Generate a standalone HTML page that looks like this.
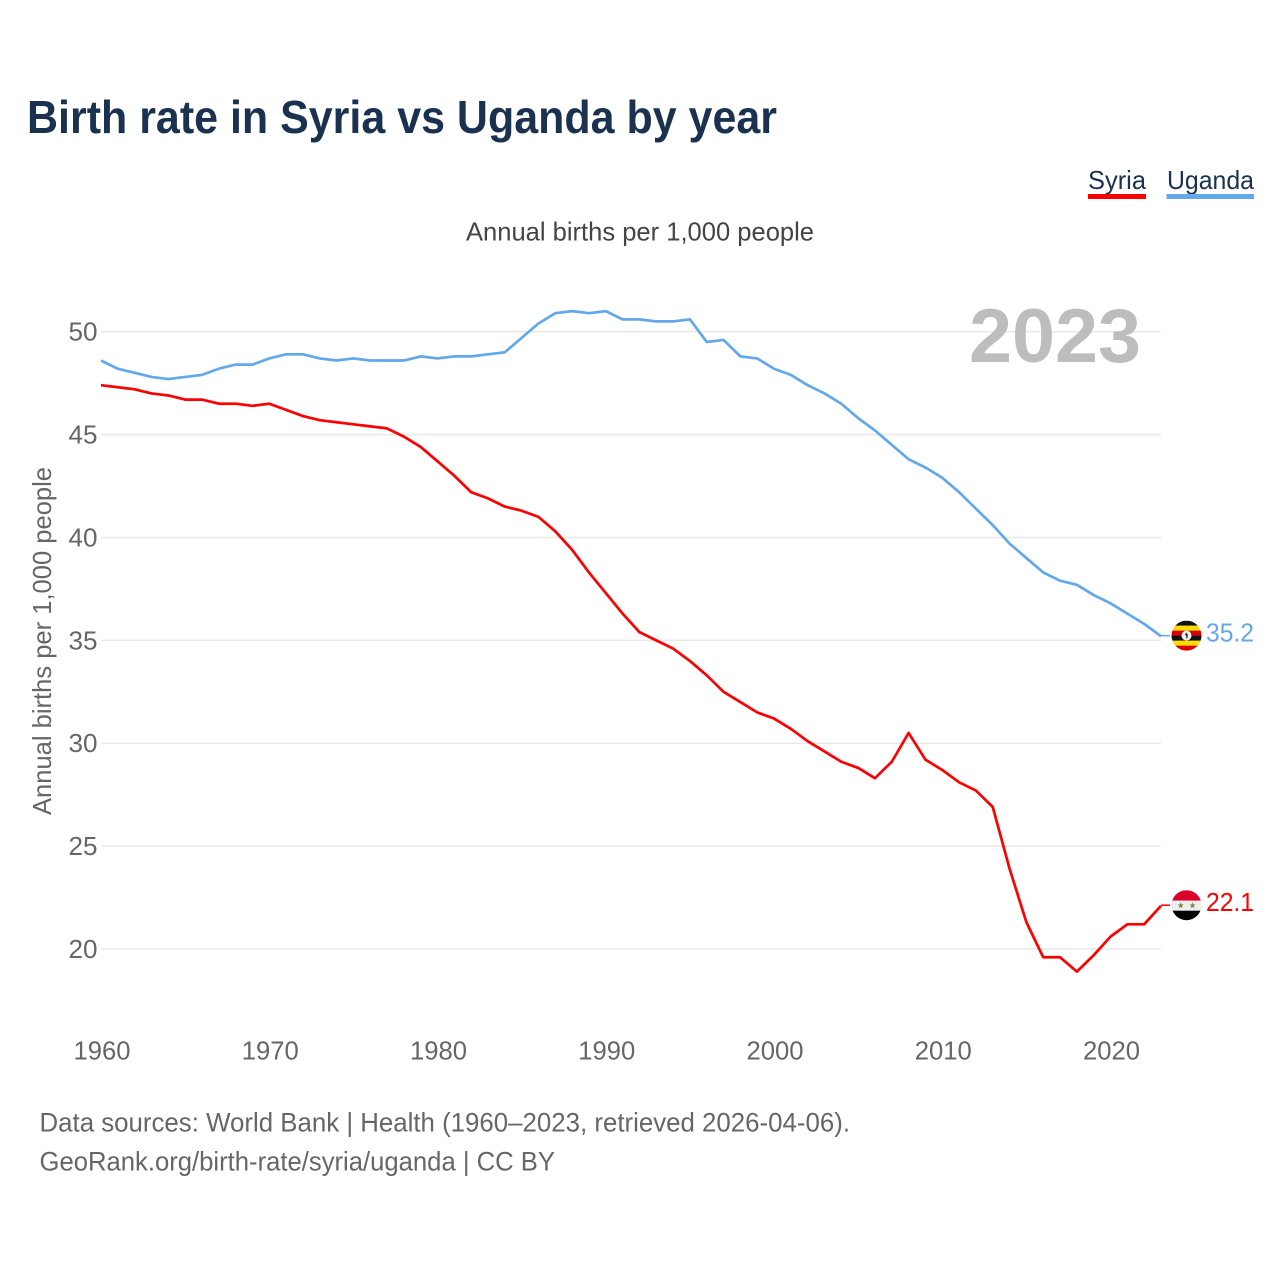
<!DOCTYPE html>
<html lang="en">
<head>
<meta charset="utf-8">
<title>Birth rate in Syria vs Uganda by year</title>
<style>
html,body{margin:0;padding:0;background:#fff;}
svg{display:block;font-family:"Liberation Sans",sans-serif;}
</style>
</head>
<body>
<svg id="chart" xmlns="http://www.w3.org/2000/svg" width="1280" height="1280" viewBox="0 0 1280 1280">
  <rect x="0" y="0" width="1280" height="1280" fill="#fff"/>
  <text x="27" y="133" font-size="46" font-weight="700" fill="#1a3150" textLength="750" lengthAdjust="spacingAndGlyphs">Birth rate in Syria vs Uganda by year</text>
  <g>
    <g>
      <text x="1088" y="189" font-size="26" fill="#1a3150" textLength="58" lengthAdjust="spacingAndGlyphs">Syria</text>
      <rect x="1088" y="194" width="58" height="5" fill="#ff0000"/>
    </g>
    <g>
      <text x="1167" y="189" font-size="26" fill="#1a3150" textLength="87" lengthAdjust="spacingAndGlyphs">Uganda</text>
      <rect x="1166.500" y="194" width="87.500" height="5" fill="#62a8ea"/>
    </g>
  </g>
  <text x="466" y="240.500" font-size="26" fill="#444" textLength="348" lengthAdjust="spacingAndGlyphs">Annual births per 1,000 people</text>
  <text transform="translate(51,815) rotate(-90)" x="0" y="0" font-size="26" fill="#666" textLength="348" lengthAdjust="spacingAndGlyphs">Annual births per 1,000 people</text>
  <g id="grid"></g>
  <g id="yticks"></g>
  <g id="xticks"></g>
  <text x="969" y="362" font-size="76" font-weight="700" fill="#bdbdbd" textLength="172" lengthAdjust="spacingAndGlyphs">2023</text>
  <g id="series"></g>
  <defs>
    <clipPath id="clip-uganda"><circle id="clip-uganda-c" cx="1186.500" cy="636" r="15"/></clipPath>
    <clipPath id="clip-syria"><circle id="clip-syria-c" cx="1186.500" cy="905" r="15"/></clipPath>
  </defs>
  <g id="flag-uganda"></g>
  <g id="flag-syria"></g>
  <text x="39.500" y="1131.500" font-size="27" fill="#666" textLength="810.500" lengthAdjust="spacingAndGlyphs">Data sources: World Bank | Health (1960–2023, retrieved 2026-04-06).</text>
  <text x="39.500" y="1170.500" font-size="27" fill="#666" textLength="515.500" lengthAdjust="spacingAndGlyphs">GeoRank.org/birth-rate/syria/uganda | CC BY</text>
</svg>
<script>
var years = [1960,1961,1962,1963,1964,1965,1966,1967,1968,1969,1970,1971,1972,1973,1974,1975,1976,1977,1978,1979,1980,1981,1982,1983,1984,1985,1986,1987,1988,1989,1990,1991,1992,1993,1994,1995,1996,1997,1998,1999,2000,2001,2002,2003,2004,2005,2006,2007,2008,2009,2010,2011,2012,2013,2014,2015,2016,2017,2018,2019,2020,2021,2022,2023];
var ugandaValues = [48.6,48.2,48.0,47.8,47.7,47.8,47.9,48.2,48.4,48.4,48.7,48.9,48.9,48.7,48.6,48.7,48.6,48.6,48.6,48.8,48.7,48.8,48.8,48.9,49.0,49.7,50.4,50.9,51.0,50.9,51.0,50.6,50.6,50.5,50.5,50.6,49.5,49.6,48.8,48.7,48.2,47.9,47.4,47.0,46.5,45.8,45.2,44.5,43.8,43.4,42.9,42.2,41.4,40.6,39.7,39.0,38.3,37.9,37.7,37.2,36.8,36.3,35.8,35.2];
var syriaValues = [47.4,47.3,47.2,47.0,46.9,46.7,46.7,46.5,46.5,46.4,46.5,46.2,45.9,45.7,45.6,45.5,45.4,45.3,44.9,44.4,43.7,43.0,42.2,41.9,41.5,41.3,41.0,40.3,39.4,38.3,37.3,36.3,35.4,35.0,34.6,34.0,33.3,32.5,32.0,31.5,31.2,30.7,30.1,29.6,29.1,28.8,28.3,29.1,30.5,29.2,28.7,28.1,27.7,26.9,23.9,21.3,19.6,19.6,18.9,19.7,20.6,21.2,21.2,22.1];
var yTickValues = [20,25,30,35,40,45,50];
var xTickValues = [1960,1970,1980,1990,2000,2010,2020];

var NS = 'http://www.w3.org/2000/svg';
function xScale(v){ return 101 + (v - 1960) * (1161 - 101) / 63; }
function yScale(v){ return 949 - (v - 20) * (949 - 331.7) / 30; }
function make(tag, attrs, parent, txt){
  var el = document.createElementNS(NS, tag);
  for (var k in attrs) el.setAttribute(k, attrs[k]);
  if (txt !== undefined) el.textContent = txt;
  parent.appendChild(el);
  return el;
}
var grid = document.getElementById('grid');
var yticks = document.getElementById('yticks');
var xticks = document.getElementById('xticks');
var series = document.getElementById('series');

yTickValues.forEach(function(v){
  var line = make('line', {x1:101, x2:1161, y1:yScale(v), y2:yScale(v), stroke:'#e9e9e9', 'stroke-width':1.5}, grid);
  
  
  var t = make('text', {x:97.5, y:yScale(v)+9, 'text-anchor':'end', 'font-size':26, fill:'#666', textLength:29, lengthAdjust:'spacingAndGlyphs'}, yticks, String(v));
  
  
});
xTickValues.forEach(function(v){
  var t = make('text', {x:xScale(v)+1, y:1059.5, 'text-anchor':'middle', 'font-size':26, fill:'#666', textLength:57, lengthAdjust:'spacingAndGlyphs'}, xticks, String(v));
  
  
});

function pathFor(vals){
  return vals.map(function(v,i){ return (i ? 'L' : 'M') + xScale(years[i]).toFixed(2) + ' ' + yScale(v).toFixed(2); }).join(' ');
}
var ugandaLine = make('path', {d:pathFor(ugandaValues), fill:'none', stroke:'#62a8ea', 'stroke-width':2.7, 'stroke-linejoin':'round'}, series);


var syriaLine = make('path', {d:pathFor(syriaValues), fill:'none', stroke:'#ff0000', 'stroke-width':2.7, 'stroke-linejoin':'round'}, series);



var uLast = ugandaValues[ugandaValues.length-1];
var sLast = syriaValues[syriaValues.length-1];
var uy = yScale(uLast) - 0.6;
var sy = yScale(sLast) - 0.6;

var uConn = make('line', {x1:1161, x2:1170, y1:uy, y2:uy, stroke:'#62a8ea', 'stroke-width':1.5}, series);


var sConn = make('line', {x1:1161, x2:1170, y1:sy, y2:sy, stroke:'#ff0000', 'stroke-width':1.5}, series);



var uValueLabel = make('text', {x:1206, y:uy+6, 'font-size':26, fill:'#62a8ea', textLength:48, lengthAdjust:'spacingAndGlyphs'}, series, String(uLast));


var sValueLabel = make('text', {x:1206, y:sy+6, 'font-size':26, fill:'#ff0000', textLength:48, lengthAdjust:'spacingAndGlyphs'}, series, String(sLast));



/* flags */
document.getElementById('clip-uganda-c').setAttribute('cy', uy);
document.getElementById('clip-syria-c').setAttribute('cy', sy);
var fu = document.getElementById('flag-uganda');
fu.setAttribute('clip-path', 'url(#clip-uganda)');
['#111111','#fcdc04','#d90000','#111111','#fcdc04','#d90000'].forEach(function(c,i){
  make('rect', {x:1171, y:uy-15+i*5, width:31, height:5.2, fill:c}, fu);
});
make('circle', {cx:1186.5, cy:uy, r:5, fill:'#f2f2f2'}, fu);
make('path', {d:'M1186.5 '+(uy-3.2)+' l1.4 3 l-0.6 3 l-1.2 0 l0.4 -2.4 l-1.6 -1.2 z', fill:'#222'}, fu);

var fs = document.getElementById('flag-syria');
fs.setAttribute('clip-path', 'url(#clip-syria)');
make('rect', {x:1171, y:sy-15, width:31, height:10.5, fill:'#d9002a'}, fs);
make('rect', {x:1171, y:sy-4.5, width:31, height:10, fill:'#eeeeee'}, fs);
make('rect', {x:1171, y:sy+5.5, width:31, height:10, fill:'#000000'}, fs);
[1180.7,1192.5].forEach(function(cx){
  var pts = [];
  for (var i=0;i<10;i++){
    var r = i%2 ? 1.4 : 3.2;
    var a = -Math.PI/2 + i*Math.PI/5;
    pts.push((cx + r*Math.cos(a)).toFixed(2) + ',' + (sy + 0.3 + r*Math.sin(a)).toFixed(2));
  }
  make('polygon', {points:pts.join(' '), fill:'#7b8a3c'}, fs);
});
</script>
</body>
</html>
